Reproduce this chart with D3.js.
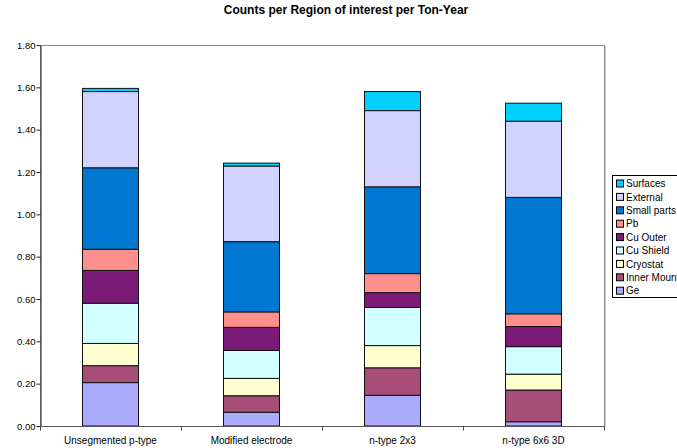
<!DOCTYPE html>
<html>
<head>
<meta charset="utf-8">
<script src="https://cdn.jsdelivr.net/npm/d3@7"></script>
<style>
  html, body { margin: 0; padding: 0; background: #fff; }
  svg { display: block; font-family: "Liberation Sans", Arial, sans-serif; }
</style>
</head>
<body>
<svg id="chart" width="677" height="448"></svg>
<script>
// Detector configurations
const categories = ["Unsegmented p-type", "Modified electrode", "n-type 2x3", "n-type 6x6 3D"];

// Counts per ROI per ton-year, by background source (bottom to top of each stack)
const ge          = [0.205, 0.065, 0.145, 0.020];
const innerMount  = [0.080, 0.078, 0.130, 0.150];
const cryostat    = [0.105, 0.082, 0.105, 0.075];
const cuShield    = [0.190, 0.132, 0.180, 0.130];
const cuOuter     = [0.155, 0.109, 0.070, 0.095];
const pb          = [0.100, 0.073, 0.090, 0.060];
const smallParts  = [0.385, 0.332, 0.410, 0.550];
const external    = [0.360, 0.357, 0.360, 0.360];
const surfaces    = [0.015, 0.014, 0.090, 0.085];

const seriesNames = ["Ge", "Inner Mount", "Cryostat", "Cu Shield", "Cu Outer", "Pb", "Small parts", "External", "Surfaces"];
const seriesValues = [ge, innerMount, cryostat, cuShield, cuOuter, pb, smallParts, external, surfaces];
const seriesColors = ["#aaaaff", "#a84c78", "#ffffd0", "#d2ffff", "#7b1b77", "#ff8f8a", "#0077d0", "#d2d2ff", "#00d0ff"];

const yTicks = [0, 0.2, 0.4, 0.6, 0.8, 1.0, 1.2, 1.4, 1.6, 1.8];
const title = "Counts per Region of interest per Ton-Year";

// Table rows for d3.stack
const rows = categories.map((c, i) => {
  const r = { category: c };
  seriesNames.forEach((s, k) => { r[s] = seriesValues[k][i]; });
  return r;
});

const svg = d3.select("#chart");
const plot = { left: 40, right: 604, top: 45, bottom: 426 };

const x = d3.scaleBand()
  .domain(categories)
  .range([plot.left, plot.right])
  .paddingInner(0.6)
  .paddingOuter(0.3);

const y = d3.scaleLinear()
  .domain([0, 1.8])
  .range([plot.bottom, plot.top]);

const color = d3.scaleOrdinal().domain(seriesNames).range(seriesColors);

// Plot area frame
svg.append("rect")
  .attr("x", plot.left + 0.5)
  .attr("y", plot.top + 0.5)
  .attr("width", plot.right - plot.left)
  .attr("height", plot.bottom - plot.top)
  .attr("fill", "#fff")
  .attr("stroke", "#8c8c8c")
  .attr("stroke-width", 1);
svg.append("line")
  .attr("x1", plot.right + 1.5).attr("x2", plot.right + 1.5)
  .attr("y1", plot.top + 1).attr("y2", plot.bottom)
  .attr("stroke", "#c8c8c8");

// Stacked bars
const stacked = d3.stack().keys(seriesNames)(rows);
svg.append("g")
  .selectAll("g")
  .data(stacked)
  .join("g")
  .attr("fill", d => color(d.key))
  .selectAll("rect")
  .data(d => d)
  .join("rect")
  .attr("x", d => Math.round(x(d.data.category)) + 0.5)
  .attr("y", d => y(d[1]))
  .attr("width", Math.round(x.bandwidth()))
  .attr("height", d => y(d[0]) - y(d[1]))
  .attr("stroke", "#111")
  .attr("stroke-width", 1);

// Y axis
const yAxis = svg.append("g")
  .attr("transform", `translate(${plot.left + 0.5},0)`)
  .call(d3.axisLeft(y).tickValues(yTicks).tickFormat(d3.format(".2f")).tickSize(4).tickSizeOuter(0));
yAxis.select(".domain").attr("stroke", "#222");
yAxis.selectAll(".tick line").attr("stroke", "#222");
yAxis.selectAll(".tick text")
  .attr("x", -5)
  .attr("font-size", 9.5)
  .attr("font-family", "'Liberation Sans', Arial, sans-serif")
  .attr("fill", "#000");

// X axis with ticks between categories
const xAxisG = svg.append("g")
  .attr("transform", `translate(0,${plot.bottom + 0.5})`);
xAxisG.append("line")
  .attr("x1", plot.left).attr("x2", plot.right + 1)
  .attr("stroke", "#555");
const step = x.step();
const boundaries = d3.range(categories.length + 1).map(i => plot.left + i * step);
xAxisG.selectAll("line.tick")
  .data(boundaries)
  .join("line")
  .attr("class", "tick")
  .attr("x1", d => Math.round(d) + 0.5).attr("x2", d => Math.round(d) + 0.5)
  .attr("y1", 0).attr("y2", 4)
  .attr("stroke", "#444");
xAxisG.selectAll("text")
  .data(categories)
  .join("text")
  .attr("x", d => x(d) + x.bandwidth() / 2)
  .attr("y", 17)
  .attr("text-anchor", "middle")
  .attr("font-size", 10)
  .attr("fill", "#000")
  .text(d => d);

// Title
svg.append("text")
  .attr("x", 346)
  .attr("y", 14)
  .attr("text-anchor", "middle")
  .attr("font-size", 12)
  .attr("font-weight", "bold")
  .attr("fill", "#000")
  .text(title);

// Legend (top-down order matches the stack from top)
const legendOrder = seriesNames.slice().reverse();
const legend = svg.append("g").attr("transform", "translate(612.5,175.5)");
legend.append("rect")
  .attr("width", 90)
  .attr("height", 122)
  .attr("fill", "#fff")
  .attr("stroke", "#000");
const items = legend.selectAll("g.item")
  .data(legendOrder)
  .join("g")
  .attr("class", "item")
  .attr("transform", (d, i) => `translate(4,${8 + i * 13.4})`);
items.append("rect")
  .attr("width", 7)
  .attr("height", 7)
  .attr("y", -3.5)
  .attr("fill", d => color(d))
  .attr("stroke", "#000");
items.append("text")
  .attr("x", 9.5)
  .attr("y", 3.6)
  .attr("font-size", 10)
  .attr("fill", "#000")
  .text(d => d);
</script>
</body>
</html>
